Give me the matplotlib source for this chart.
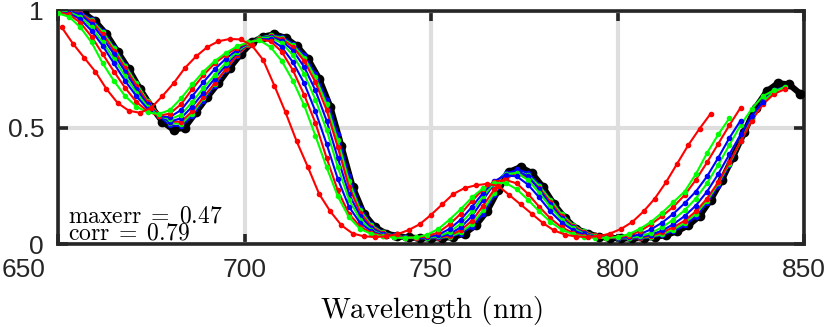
import matplotlib
matplotlib.use("Agg")
import matplotlib.pyplot as plt
import matplotlib.transforms as mtransforms

# ---------------- data ----------------
wl = [650, 653, 656, 659, 662, 665, 668, 671, 674, 677, 680, 683, 686, 689, 692,
      695, 698, 701, 704, 707, 710, 713, 716, 719, 722, 725, 728, 731, 734, 737,
      740, 743, 746, 749, 752, 755, 758, 761, 764, 767, 770, 773, 776, 779, 782,
      785, 788, 791, 794, 797, 800, 803, 806, 809, 812, 815, 818, 821, 824, 827,
      830, 833, 836, 839, 842, 845]

target_wl = [654, 657, 660, 663, 666, 669, 672, 675, 678, 681, 684, 687, 690, 693,
             696, 699, 702, 705, 708, 711, 714, 717, 720, 723, 726, 729, 732, 735,
             738, 741, 744, 747, 750, 753, 756, 759, 762, 765, 768, 771, 774, 777,
             780, 783, 786, 789, 792, 795, 798, 801, 804, 807, 810, 813, 816, 819,
             822, 825, 828, 831, 834, 837, 840, 843, 846, 849]
target = [1.0, 0.99, 0.955, 0.90, 0.825, 0.75, 0.665, 0.59, 0.525, 0.49, 0.50, 0.565,
          0.63, 0.69, 0.755, 0.815, 0.865, 0.89, 0.90, 0.885, 0.85, 0.795, 0.71, 0.59,
          0.42, 0.245, 0.13, 0.072, 0.045, 0.034, 0.028, 0.025, 0.024, 0.026, 0.03,
          0.045, 0.08, 0.14, 0.23, 0.31, 0.33, 0.305, 0.245, 0.17, 0.11, 0.065, 0.045,
          0.032, 0.026, 0.024, 0.024, 0.026, 0.03, 0.038, 0.055, 0.08, 0.12, 0.19,
          0.275, 0.375, 0.48, 0.585, 0.655, 0.69, 0.685, 0.645]

r1_wl = [651, 654, 657, 660, 663, 666, 669, 672, 675, 678, 681, 684, 687, 690, 693,
         696, 699, 702, 705, 708, 711, 714, 717, 720, 723, 726, 729, 732, 735, 738,
         741, 744, 747, 750, 753, 756, 759, 762, 765, 768, 771, 774, 777, 780, 783,
         786, 789, 792, 795, 798, 801, 804, 807, 810, 813, 816, 819, 822, 825]
r1 = [0.93, 0.86, 0.80, 0.74, 0.665, 0.605, 0.572, 0.563, 0.585, 0.635, 0.69, 0.755,
      0.805, 0.845, 0.87, 0.88, 0.878, 0.852, 0.79, 0.68, 0.565, 0.44, 0.33, 0.215,
      0.14, 0.08, 0.045, 0.033, 0.03, 0.033, 0.042, 0.06, 0.085, 0.125, 0.17, 0.215,
      0.24, 0.252, 0.258, 0.25, 0.21, 0.17, 0.13, 0.09, 0.058, 0.04, 0.032, 0.03,
      0.033, 0.045, 0.065, 0.095, 0.14, 0.195, 0.265, 0.345, 0.425, 0.495, 0.56]

g1 = [0.99, 0.975, 0.93, 0.865, 0.775, 0.70, 0.635, 0.59, 0.565, 0.558, 0.575, 0.625,
      0.685, 0.74, 0.785, 0.82, 0.848, 0.866, 0.875, 0.845, 0.785, 0.70, 0.595, 0.465,
      0.33, 0.205, 0.115, 0.065, 0.043, 0.033, 0.028, 0.026, 0.028, 0.04, 0.065,
      0.105, 0.15, 0.2, 0.24, 0.262, 0.262, 0.235, 0.19, 0.14, 0.095, 0.062, 0.042,
      0.032, 0.027, 0.026, 0.03, 0.042, 0.065, 0.095, 0.135, 0.18, 0.225, 0.3, 0.39,
      0.47, 0.54]

r2 = [0.995, 0.985, 0.95, 0.89, 0.815, 0.74, 0.67, 0.61, 0.57, 0.55, 0.56, 0.60,
      0.665, 0.725, 0.775, 0.812, 0.842, 0.864, 0.878, 0.87, 0.825, 0.745, 0.64, 0.52,
      0.37, 0.23, 0.13, 0.075, 0.048, 0.036, 0.03, 0.027, 0.027, 0.033, 0.05, 0.085,
      0.13, 0.185, 0.235, 0.268, 0.275, 0.26, 0.215, 0.16, 0.11, 0.072, 0.048, 0.035,
      0.028, 0.026, 0.028, 0.036, 0.055, 0.085, 0.12, 0.16, 0.21, 0.275, 0.35, 0.43,
      0.51, 0.585]

b1 = [0.995, 0.99, 0.965, 0.915, 0.85, 0.775, 0.70, 0.635, 0.58, 0.548, 0.545, 0.575,
      0.635, 0.695, 0.75, 0.795, 0.833, 0.862, 0.88, 0.878, 0.845, 0.78, 0.69, 0.57,
      0.43, 0.28, 0.16, 0.09, 0.055, 0.038, 0.03, 0.026, 0.025, 0.028, 0.04, 0.065,
      0.105, 0.16, 0.22, 0.27, 0.295, 0.29, 0.255, 0.2, 0.14, 0.092, 0.06, 0.041,
      0.031, 0.026, 0.025, 0.029, 0.042, 0.063, 0.092, 0.13, 0.175, 0.225, 0.29, 0.37,
      0.455, 0.53]

g2 = [1.0, 0.995, 0.975, 0.93, 0.865, 0.795, 0.72, 0.65, 0.59, 0.55, 0.535, 0.555,
      0.61, 0.67, 0.725, 0.778, 0.825, 0.86, 0.884, 0.886, 0.862, 0.81, 0.73, 0.62,
      0.49, 0.33, 0.19, 0.105, 0.06, 0.04, 0.031, 0.027, 0.025, 0.026, 0.033, 0.052,
      0.088, 0.14, 0.205, 0.262, 0.3, 0.305, 0.275, 0.22, 0.158, 0.105, 0.068, 0.045,
      0.033, 0.027, 0.025, 0.026, 0.033, 0.048, 0.072, 0.105, 0.145, 0.195, 0.26,
      0.34, 0.425, 0.51, 0.58, 0.635, 0.66]

b2 = [1.0, 1.0, 0.985, 0.945, 0.885, 0.815, 0.74, 0.665, 0.60, 0.55, 0.525, 0.54,
      0.59, 0.65, 0.71, 0.767, 0.82, 0.86, 0.885, 0.89, 0.872, 0.83, 0.76, 0.66, 0.53,
      0.37, 0.215, 0.12, 0.068, 0.044, 0.033, 0.028, 0.025, 0.025, 0.029, 0.043,
      0.072, 0.12, 0.19, 0.26, 0.305, 0.315, 0.29, 0.235, 0.17, 0.112, 0.072, 0.048,
      0.035, 0.028, 0.025, 0.025, 0.029, 0.04, 0.058, 0.085, 0.12, 0.165, 0.225, 0.30,
      0.385, 0.47, 0.55, 0.61]

r3 = [1.0, 1.0, 0.99, 0.955, 0.90, 0.83, 0.755, 0.68, 0.61, 0.555, 0.525, 0.525,
      0.57, 0.63, 0.69, 0.75, 0.81, 0.855, 0.882, 0.892, 0.88, 0.845, 0.785, 0.695,
      0.575, 0.415, 0.245, 0.135, 0.075, 0.047, 0.035, 0.029, 0.026, 0.025, 0.027,
      0.036, 0.06, 0.1, 0.165, 0.235, 0.285, 0.30, 0.285, 0.24, 0.18, 0.12, 0.078,
      0.052, 0.037, 0.029, 0.025, 0.024, 0.027, 0.035, 0.05, 0.072, 0.1, 0.14, 0.195,
      0.265, 0.35, 0.44, 0.53, 0.60, 0.645, 0.665]

g3 = [1.0, 1.0, 0.99, 0.96, 0.91, 0.84, 0.765, 0.69, 0.615, 0.555, 0.52, 0.515,
      0.56, 0.625, 0.688, 0.75, 0.81, 0.857, 0.885, 0.895, 0.885, 0.853, 0.80, 0.715,
      0.60, 0.445, 0.27, 0.145, 0.08, 0.05, 0.036, 0.029, 0.026, 0.025, 0.026, 0.032,
      0.05, 0.085, 0.145, 0.22, 0.285, 0.31, 0.295, 0.25, 0.19, 0.128, 0.082, 0.055,
      0.038, 0.03, 0.026, 0.024, 0.026, 0.031, 0.042, 0.062, 0.09, 0.13, 0.185, 0.26,
      0.345, 0.44, 0.535, 0.61, 0.655, 0.675]

b3 = [1.0, 1.0, 0.995, 0.965, 0.915, 0.845, 0.77, 0.69, 0.615, 0.55, 0.51, 0.505,
      0.55, 0.615, 0.68, 0.745, 0.805, 0.855, 0.885, 0.897, 0.89, 0.86, 0.81, 0.73,
      0.62, 0.47, 0.29, 0.155, 0.085, 0.052, 0.037, 0.03, 0.026, 0.025, 0.025, 0.03,
      0.045, 0.075, 0.13, 0.21, 0.29, 0.32, 0.305, 0.255, 0.19, 0.13, 0.082, 0.055,
      0.038, 0.03, 0.026, 0.024, 0.025, 0.029, 0.038, 0.055, 0.08, 0.118, 0.175,
      0.25, 0.34, 0.44, 0.54, 0.615, 0.66, 0.675]

x_ticks = [650, 700, 750, 800, 850]
y_ticks = [0, 0.5, 1]
y_ticklabels = ["0", "0.5", "1"]
maxerr = 0.47
corr = 0.79

# ---------------- figure ----------------
plt.rcParams["mathtext.fontset"] = "cm"
W, H = 830, 327
fig = plt.figure(figsize=(W / 100, H / 100), dpi=100)
ax = fig.add_axes([58 / W, 1 - 244 / H, (804 - 58) / W, (244 - 11) / H])

ax.plot(target_wl, target, color="black", lw=4.4, marker="o", ms=6,
        zorder=3, solid_joinstyle="round")

series = [
    (b3, "#0000ff"), (g3, "#00ff00"), (r3, "#ff0000"),
    (b2, "#0000ff"), (g2, "#00ff00"), (b1, "#0000ff"),
    (r2, "#ff0000"), (g1, "#00ff00"),
]
for ys, c in series:
    ax.plot(wl[:len(ys)], ys, color=c, lw=1.5, marker="o", ms=3, zorder=4)
ax.plot(r1_wl, r1, color="#ff0000", lw=1.5, marker="o", ms=3, zorder=4)

ax.set_xlim(650, 850)
ax.set_ylim(0, 1)
ax.set_xticks(x_ticks)
ax.set_yticks(y_ticks)
ax.set_yticklabels(y_ticklabels)
ax.grid(True, color="#dedede", lw=3.0, zorder=0)
ax.set_axisbelow(True)
for s in ax.spines.values():
    s.set_color("#262626")
    s.set_linewidth(2.6)
ax.tick_params(direction="in", length=7, width=2.6, color="#262626",
               top=True, right=True, labelsize=19, pad=10)
for lab in ax.get_xticklabels() + ax.get_yticklabels():
    lab.set_fontfamily("Liberation Sans")
    lab.set_color("#262626")

# first x tick label sits at the left edge in the reference
first = ax.get_xticklabels()[0]
first.set_transform(first.get_transform() +
                    mtransforms.ScaledTranslation(-34 / 100, 0, fig.dpi_scale_trans))

ax.set_xlabel(r"$\mathrm{Wavelength\ (nm)}$", fontsize=21, labelpad=9)

ax.text(0.0134, 0.092, r"$\mathrm{maxerr}\;=\;%.2f$" % maxerr, transform=ax.transAxes,
        fontsize=17, va="baseline", ha="left", zorder=5)
ax.text(0.0134, 0.021, r"$\mathrm{corr}\;=\;%.2f$" % corr, transform=ax.transAxes,
        fontsize=17, va="baseline", ha="left", zorder=5)

fig.savefig("out.png", dpi=100)
